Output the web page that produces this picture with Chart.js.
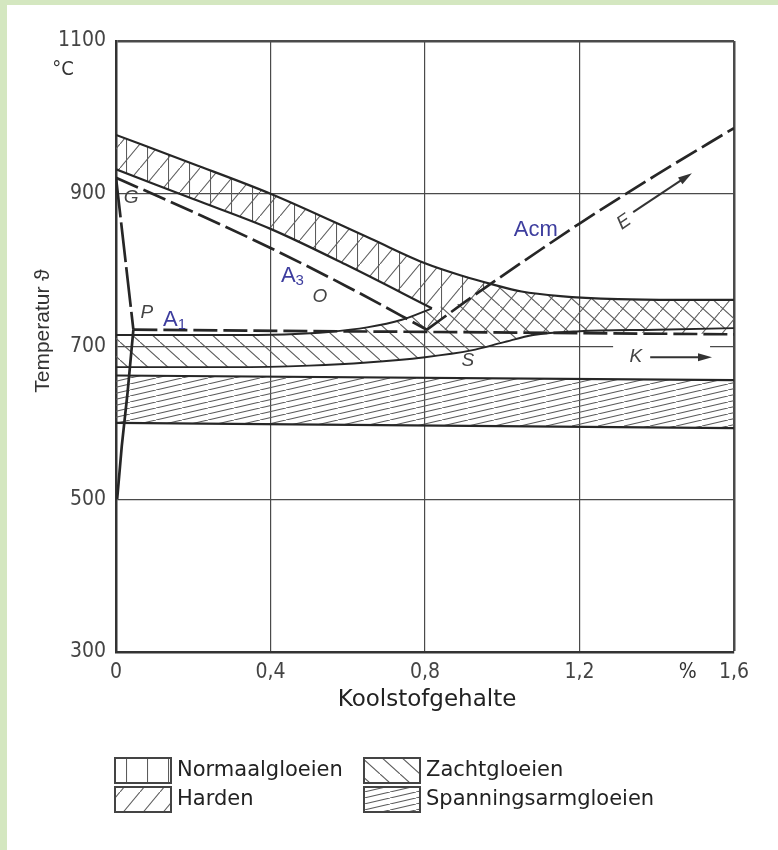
<!DOCTYPE html>
<html>
<head>
<meta charset="utf-8">
<script src="https://cdn.jsdelivr.net/npm/chart.js@4.4.1/dist/chart.umd.min.js"></script>
<style>
  html, body { margin: 0; padding: 0; background: #fff; }
  #wrap { position: relative; width: 778px; height: 850px; }
  #wrap canvas { position: absolute; left: 0; top: 0; }
  .frame { position: absolute; background: #d4e7c0; }
</style>
</head>
<body>
<div id="wrap">
  <canvas id="diagram" width="778" height="850"></canvas>
  <div class="frame" style="left:0;top:0;width:778px;height:5px"></div>
  <div class="frame" style="left:0;top:0;width:7px;height:850px"></div>
</div>
<script>
const xTicks = [0, 0.4, 0.8, 1.2, 1.6];
const yTicks = [300, 500, 700, 900, 1100];

// upper edge of the Normaalgloeien / Harden band
const topX = [0, 0.2, 0.4, 0.66, 0.8, 0.9, 0.97, 1.05, 1.15, 1.3, 1.45, 1.6];
const topT = [977, 939, 900, 841, 809, 792, 782, 772, 766, 762, 761, 761];
// lower edge of the band, ends in the tip above S
const bandX = [0, 0.2, 0.4, 0.6, 0.818];
const bandT = [932, 893, 854, 806, 750];
// Zachtgloeien
const softTopX = [0, 0.3, 0.45, 0.55, 0.65, 0.74, 0.818];
const softTopT = [715, 715, 716, 719, 725, 735, 750];
const softBotX = [0, 0.3, 0.5, 0.65, 0.8, 0.92, 1.0, 1.08, 1.2, 1.4, 1.6];
const softBotT = [673, 673, 675, 679, 686, 695, 705, 715, 720, 722, 724];
// Spanningsarmgloeien
const stressX = [0, 1.6];
const stressTopT = [662, 656];
const stressBotT = [600, 593];
// lines of the Fe-C diagram
const a3X = [0, 0.2, 0.4, 0.6, 0.805];
const a3T = [921, 876, 829, 778, 722];
const acmX = [0.805, 0.9, 0.97, 1.1, 1.2, 1.4, 1.6];
const acmT = [722, 757, 782, 827, 861, 925, 986];
const a1X = [0.045, 1.6];
const a1T = [722, 716];
const gpX = [0, 0.045];
const gpT = [921, 722];
const pqX = [0.045, 0.03, 0.015, 0.003];
const pqT = [722, 640, 570, 500];

const legendLabels = ["Normaalgloeien", "Harden", "Zachtgloeien", "Spanningsarmgloeien"];

const ink = "#262626";
const hatchInk = "#5c5c5c";
const blue = "#3d3d9e";
const tickFont = '"Liberation Sans Narrow", "DejaVu Sans Condensed", "Liberation Sans", sans-serif';

function pts(xs, ts) {
  return xs.map((x, i) => ({ x: x, y: ts[i] }));
}

function makePattern(w, h, paint) {
  const c = document.createElement("canvas");
  c.width = w;
  c.height = h;
  const g = c.getContext("2d");
  g.strokeStyle = hatchInk;
  g.lineWidth = 1.1;
  g.beginPath();
  paint(g, w, h);
  g.stroke();
  return g.createPattern(c, "repeat");
}

const patVertical = makePattern(21, 4, (g, w, h) => {
  g.moveTo(0.5, 0);
  g.lineTo(0.5, h);
});
const patSlash = makePattern(20, 24, (g, w, h) => {
  g.moveTo(-1, h + h / w);
  g.lineTo(w + 1, -h / w);
});
const patBack = makePattern(20, 18, (g, w, h) => {
  g.moveTo(-1, -h / w);
  g.lineTo(w + 1, h + h / w);
});
const patFine = makePattern(26, 6, (g, w, h) => {
  g.moveTo(-2, h + (2 * h) / w);
  g.lineTo(w + 2, (-2 * h) / w);
});

const topPts = pts(topX, topT);
const bandPts = pts(bandX, bandT);
const acmPts = pts(acmX, acmT);
const a1Pts = pts(a1X, a1T);
const softTopPts = pts(softTopX, softTopT);
const softBotPts = pts(softBotX, softBotT);
const pointS = acmPts[0];
const cross = acmPts[2]; // Acm meets the upper band edge

const normaalPoly = [
  ...topPts.filter((p) => p.x <= cross.x),
  ...acmPts.filter((p) => p.x <= cross.x).reverse(),
  ...bandPts.slice().reverse(),
];
const hardenPoly = [
  ...topPts,
  a1Pts[a1Pts.length - 1],
  pointS,
  ...bandPts.slice().reverse(),
];
const softPoly = [
  ...softTopPts,
  ...acmPts.filter((p) => p.x > pointS.x && p.x <= cross.x),
  ...topPts.filter((p) => p.x > cross.x),
  ...softBotPts.slice().reverse(),
];
const stressPoly = [
  ...pts(stressX, stressTopT),
  ...pts(stressX, stressBotT).reverse(),
];

function area(data, pattern) {
  return {
    data: data,
    fill: "shape",
    backgroundColor: pattern,
    borderColor: "rgba(0,0,0,0)",
    borderWidth: 0,
    pointRadius: 0,
    tension: 0,
    order: 10,
  };
}

function curve(data, width, dash, smooth) {
  return {
    data: data,
    fill: false,
    borderColor: ink,
    borderWidth: width,
    borderDash: dash || [],
    borderJoinStyle: "round",
    pointRadius: 0,
    tension: 0,
    cubicInterpolationMode: smooth ? "monotone" : "default",
    order: 1,
  };
}

const pointLabels = [
  { text: "G", x: 0.039, t: 895 },
  { text: "P", x: 0.08, t: 744 },
  { text: "O", x: 0.528, t: 765 },
  { text: "S", x: 0.911, t: 682 },
  { text: "K", x: 1.346, t: 686 },
  { text: "E", x: 1.315, t: 863, rot: -0.6 },
];
const blueLabels = [
  { main: "A", sub: "1", x: 0.122, t: 727 },
  { main: "A", sub: "3", x: 0.427, t: 784 },
  { main: "Acm", sub: "", x: 1.03, t: 845 },
];
const arrows = [
  { from: [1.339, 876], to: [1.491, 927] },
  { from: [1.383, 686], to: [1.543, 686] },
];

function drawArrow(ctx, x0, y0, x1, y1) {
  const ang = Math.atan2(y1 - y0, x1 - x0);
  ctx.beginPath();
  ctx.moveTo(x0, y0);
  ctx.lineTo(x1 - 10 * Math.cos(ang), y1 - 10 * Math.sin(ang));
  ctx.stroke();
  ctx.beginPath();
  ctx.moveTo(x1, y1);
  ctx.lineTo(x1 - 14 * Math.cos(ang) + 4 * Math.sin(ang), y1 - 14 * Math.sin(ang) - 4 * Math.cos(ang));
  ctx.lineTo(x1 - 14 * Math.cos(ang) - 4 * Math.sin(ang), y1 - 14 * Math.sin(ang) + 4 * Math.cos(ang));
  ctx.closePath();
  ctx.fill();
}

const decor = {
  id: "decor",
  afterDraw(chart) {
    const { ctx, chartArea: a } = chart;
    const xs = chart.scales.x;
    const ys = chart.scales.y;
    ctx.save();

    // gap in the 700 grid line behind the K arrow
    ctx.fillStyle = "#fff";
    ctx.fillRect(xs.getPixelForValue(1.287), ys.getPixelForValue(700) - 2, xs.getPixelForValue(1.538) - xs.getPixelForValue(1.287), 4);

    // axis titles
    ctx.fillStyle = "#333";
    ctx.textAlign = "center";
    ctx.textBaseline = "middle";
    ctx.save();
    ctx.translate(43, 331);
    ctx.rotate(-Math.PI / 2);
    ctx.font = '21px "Liberation Sans", sans-serif';
    ctx.fillText("Temperatur \u03d1", 0, 0);
    ctx.restore();
    ctx.font = "20px " + tickFont;
    ctx.fillText("\u00b0C", 63, 70);
    ctx.font = "21px " + tickFont;
    ctx.fillText("%", xs.getPixelForValue(1.48), 673);
    ctx.fillStyle = "#222";
    ctx.font = '23px "DejaVu Sans", sans-serif';
    ctx.fillText("Koolstofgehalte", (a.left + a.right) / 2 + 2, 700);

    // italic point letters
    ctx.fillStyle = "#444";
    ctx.font = 'italic 19px "Liberation Sans Narrow", "Liberation Sans", sans-serif';
    pointLabels.forEach((l) => {
      ctx.save();
      ctx.translate(xs.getPixelForValue(l.x), ys.getPixelForValue(l.t));
      if (l.rot) ctx.rotate(l.rot);
      ctx.fillText(l.text, 0, 0);
      ctx.restore();
    });

    // arrows
    ctx.strokeStyle = "#333";
    ctx.fillStyle = "#333";
    ctx.lineWidth = 2;
    arrows.forEach((ar) => {
      drawArrow(ctx, xs.getPixelForValue(ar.from[0]), ys.getPixelForValue(ar.from[1]),
        xs.getPixelForValue(ar.to[0]), ys.getPixelForValue(ar.to[1]));
    });

    // blue transformation labels
    ctx.fillStyle = blue;
    ctx.textAlign = "left";
    ctx.textBaseline = "alphabetic";
    blueLabels.forEach((l) => {
      const px = xs.getPixelForValue(l.x);
      const py = ys.getPixelForValue(l.t);
      ctx.font = '22px "Liberation Sans", sans-serif';
      ctx.fillText(l.main, px, py);
      if (l.sub) {
        const w = ctx.measureText(l.main).width;
        ctx.font = '15px "Liberation Sans", sans-serif';
        ctx.fillText(l.sub, px + w, py + 3);
      }
    });

    // legend
    const pats = [patVertical, patSlash, patBack, patFine];
    legendLabels.forEach((label, i) => {
      const col = i < 2 ? 0 : 1;
      const row = i % 2;
      const bx = col === 0 ? 115 : 364;
      const by = row === 0 ? 758 : 787;
      ctx.fillStyle = pats[i];
      ctx.fillRect(bx, by, 56, 25);
      ctx.strokeStyle = "#444";
      ctx.lineWidth = 2;
      ctx.strokeRect(bx, by, 56, 25);
      ctx.fillStyle = "#222";
      ctx.font = '21px "DejaVu Sans", sans-serif';
      ctx.textBaseline = "middle";
      ctx.fillText(label, bx + 62, by + 13);
    });
    ctx.restore();
  },
};

new Chart(document.getElementById("diagram"), {
  type: "line",
  data: {
    datasets: [
      area(stressPoly, patFine),
      area(softPoly, patBack),
      area(hardenPoly, patSlash),
      area(normaalPoly, patVertical),
      curve(topPts, 2.2, null, true),
      curve(bandPts, 2.2, null, true),
      curve(softTopPts, 1.9, null, true),
      curve(softBotPts, 1.9, null, true),
      curve(pts(stressX, stressTopT), 2.2),
      curve(pts(stressX, stressBotT), 2.2),
      curve(pts(a3X, a3T), 2.7, [24, 6], true),
      curve(acmPts, 2.7, [24, 6], true),
      curve(a1Pts, 2.7, [24, 6]),
      curve(pts(gpX, gpT), 2.7, [40, 5]),
      curve(pts(pqX, pqT), 2.7),
    ],
  },
  options: {
    responsive: false,
    animation: false,
    devicePixelRatio: 1,
    layout: { padding: { top: 41, right: 44, bottom: 138, left: 0 } },
    plugins: { legend: { display: false }, tooltip: { enabled: false } },
    scales: {
      x: {
        type: "linear",
        min: 0,
        max: 1.6,
        afterBuildTicks: (s) => { s.ticks = xTicks.map((v) => ({ value: v })); },
        afterFit: (s) => { s.height = 60; },
        grid: {
          color: "#4a4a4a",
          lineWidth: (c) => (c.tick && c.tick.value > 1.59 ? 2.5 : 1.2),
          drawTicks: false,
        },
        border: { color: "#333", width: 2.5 },
        ticks: {
          padding: 8,
          color: "#444",
          font: { family: tickFont, size: 21 },
          callback: (v) => (v === 0 ? "0" : Number(v).toFixed(1).replace(".", ",")),
        },
      },
      y: {
        min: 300,
        max: 1100,
        afterBuildTicks: (s) => { s.ticks = yTicks.map((v) => ({ value: v })); },
        afterFit: (s) => { s.width = 116; },
        grid: {
          color: "#4a4a4a",
          lineWidth: (c) => (c.tick && c.tick.value === 1100 ? 2.5 : 1.2),
          drawTicks: false,
        },
        border: { color: "#333", width: 2.5 },
        ticks: {
          padding: 10,
          color: "#444",
          font: { family: tickFont, size: 21 },
          callback: (v) => String(v),
        },
      },
    },
  },
  plugins: [decor],
});
</script>
</body>
</html>
